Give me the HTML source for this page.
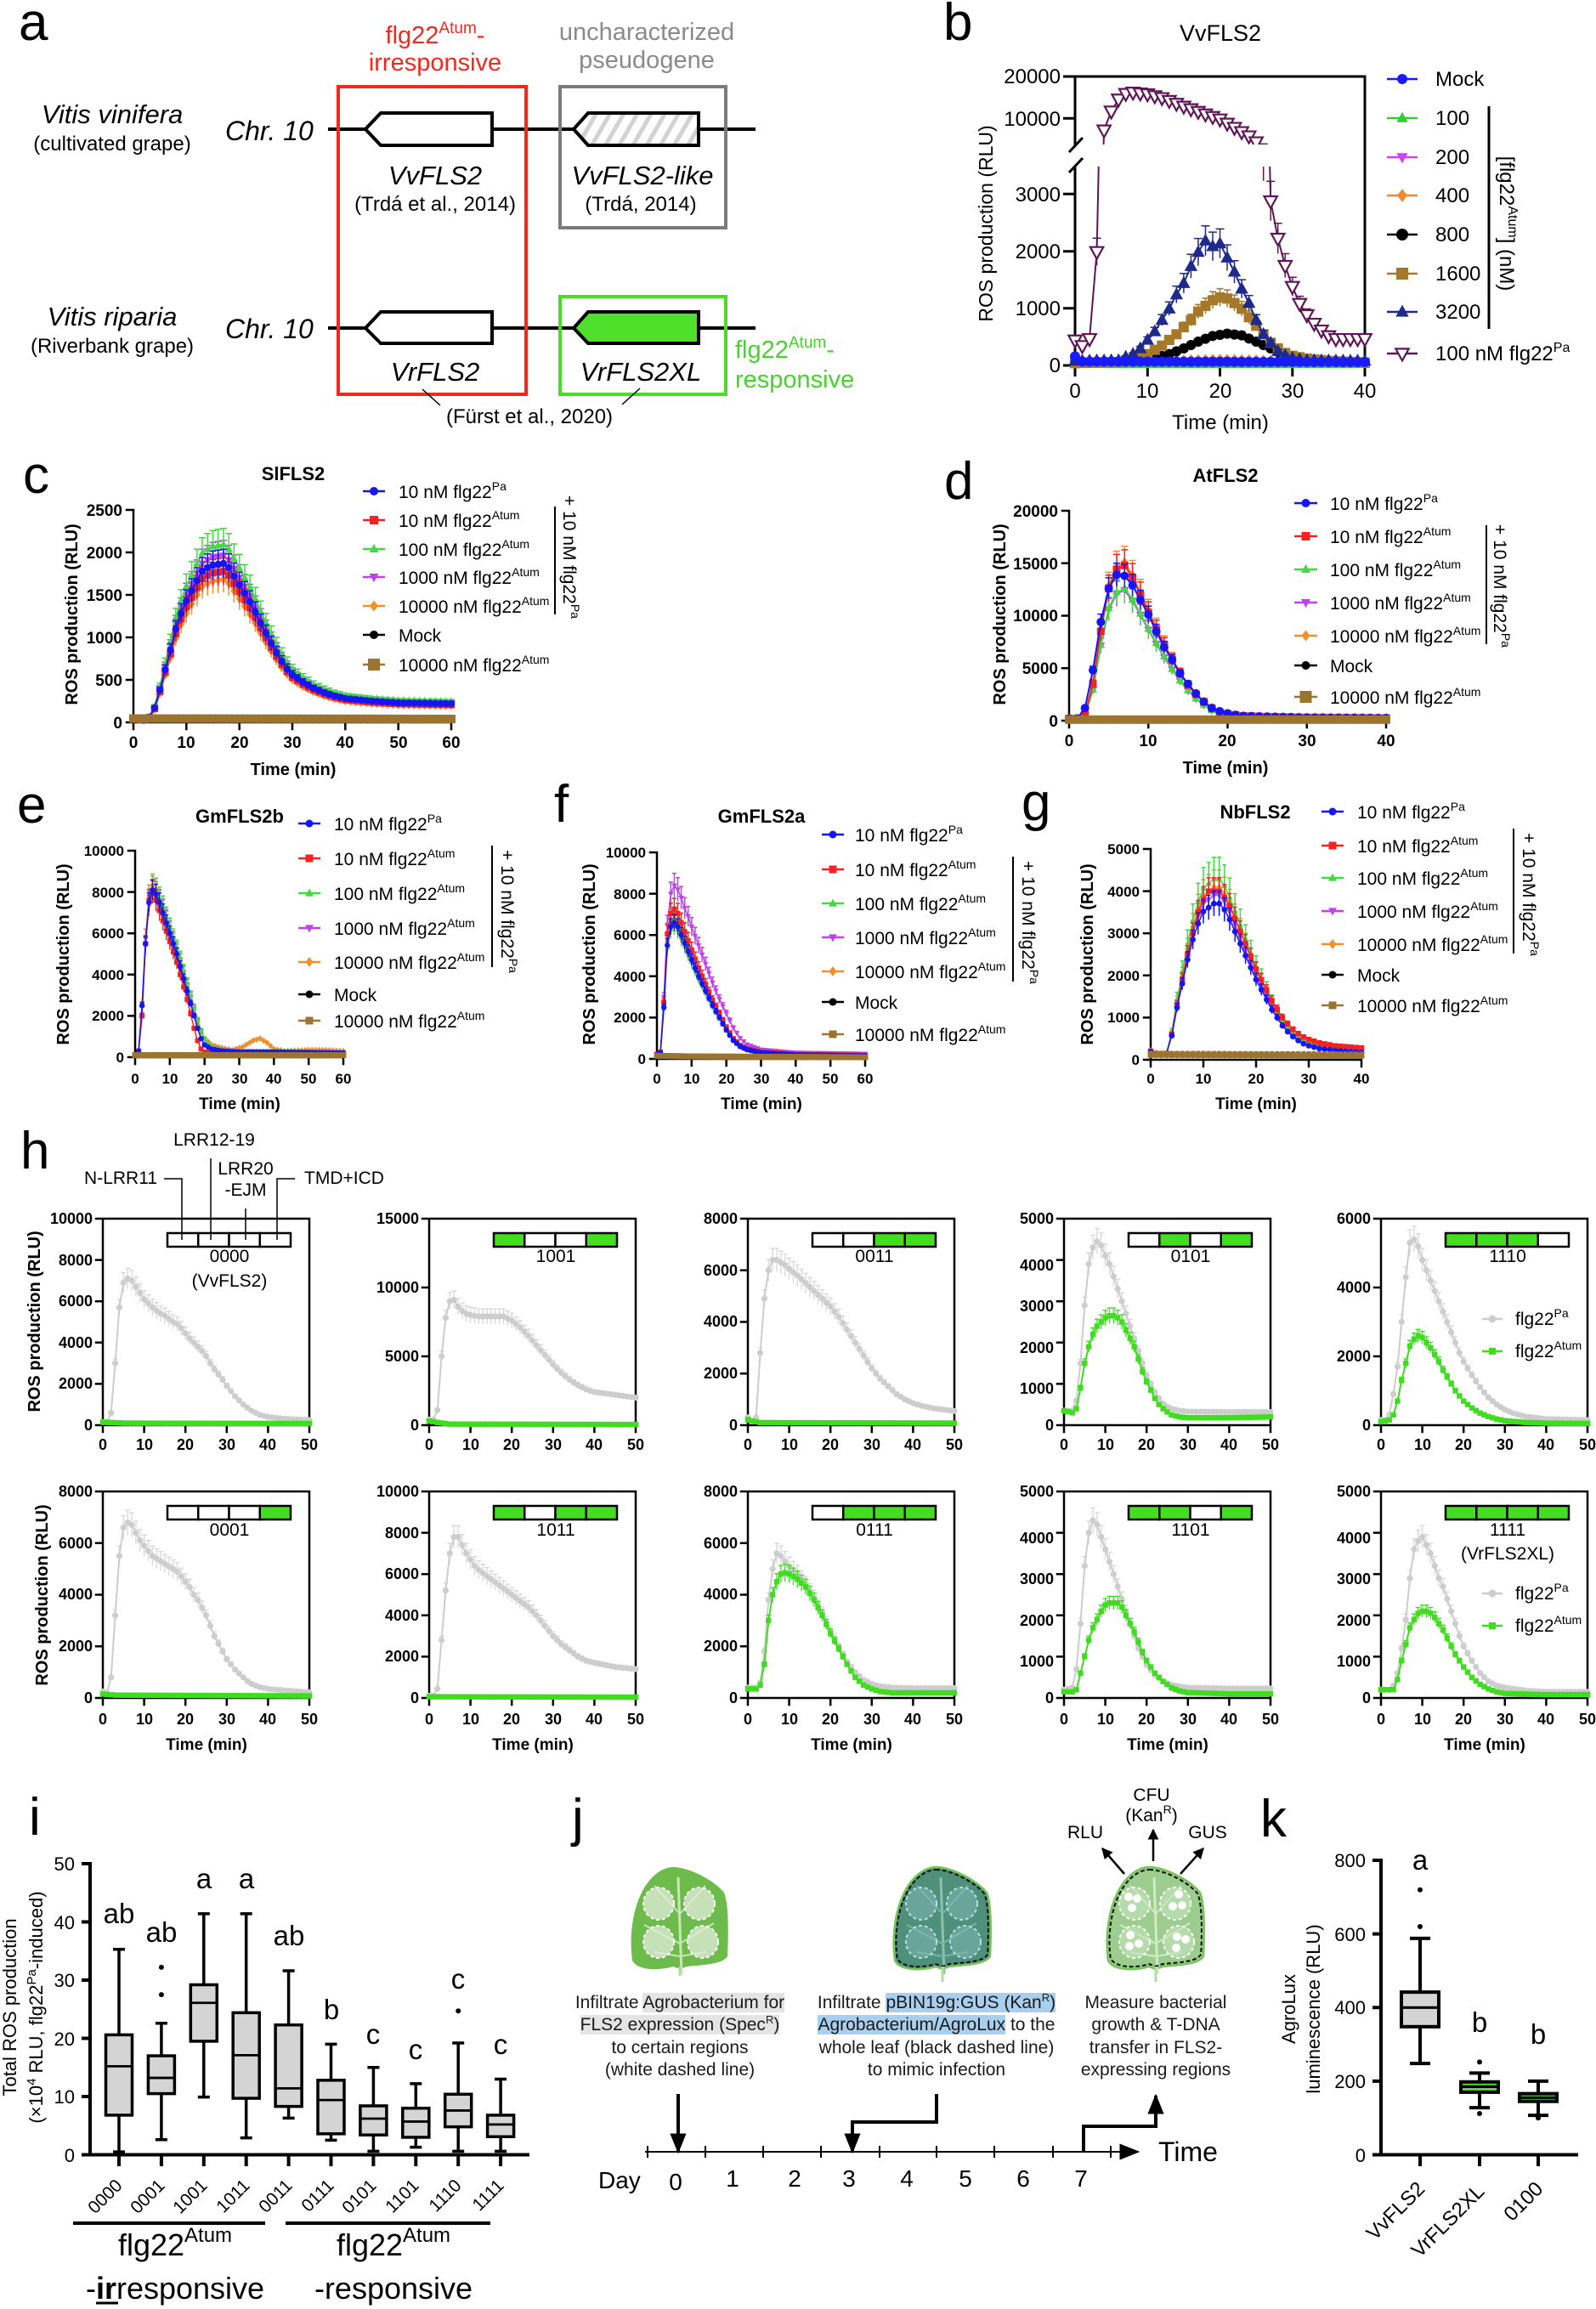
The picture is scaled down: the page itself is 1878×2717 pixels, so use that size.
<!DOCTYPE html>
<html><head><meta charset="utf-8">
<style>
html,body{margin:0;padding:0;background:#fff}
#wrap{position:relative;width:1878px;height:2717px;overflow:hidden;background:#fff}
svg{position:absolute;left:0;top:0}
text{font-family:"Liberation Sans",Arial,sans-serif;fill:#000}
.b{font-weight:bold}
.jt{position:absolute;font-family:"Liberation Sans",Arial,sans-serif;font-size:21px;line-height:26.3px;text-align:center;white-space:nowrap;color:#1a1a1a}
.hg{background:#e4e4e4}
.hb{background:#a8cfee}
sup{font-size:13px;vertical-align:8px;line-height:0}
</style></head><body><div id="wrap">
<svg id="s" width="1878" height="2717" viewBox="0 0 1878 2717" xmlns="http://www.w3.org/2000/svg">
<defs>
<pattern id="hatch" width="14" height="14" patternUnits="userSpaceOnUse" patternTransform="rotate(30)"><rect width="14" height="14" fill="#fff"/><rect width="5" height="14" fill="#d2d2d2"/></pattern>
<clipPath id="cbB"><rect x="1240" y="196" width="400" height="260"/></clipPath>
<clipPath id="cbT"><rect x="1240" y="60" width="400" height="110"/></clipPath>
<marker id="ah" viewBox="0 0 10 10" refX="9" refY="5" markerWidth="13" markerHeight="13" markerUnits="userSpaceOnUse" orient="auto"><path d="M0,0L10,5L0,10z" fill="#000"/></marker>
<marker id="ah2" viewBox="0 0 10 10" refX="9" refY="5" markerWidth="24" markerHeight="24" markerUnits="userSpaceOnUse" orient="auto"><path d="M0,1L10,5L0,9z" fill="#000"/></marker>
<path id="leaf" d="M-8,-60 C10,-60 40,-45 52,-30 C58,-15 57,20 56,45 C50,55 25,55 8,57 L0,60 L-8,57 C-25,62 -50,62 -56,50 C-60,20 -55,-10 -45,-30 C-35,-50 -20,-60 -8,-60 Z"/>
</defs>

<!-- ================= PANEL A ================= -->
<text x="22" y="47" font-size="62">a</text>
<text x="512" y="51" font-size="29" text-anchor="middle" style="fill:#ee2a20">flg22<tspan font-size="19" dy="-12" style="fill:#ee2a20">Atum</tspan><tspan dy="12" style="fill:#ee2a20">-</tspan></text>
<text x="512" y="83" font-size="29" text-anchor="middle" style="fill:#ee2a20">irresponsive</text>
<text x="761" y="47" font-size="29" text-anchor="middle" style="fill:#8a8a8a">uncharacterized</text>
<text x="761" y="80" font-size="29" text-anchor="middle" style="fill:#8a8a8a">pseudogene</text>
<line x1="386" y1="152" x2="889" y2="152" stroke="#000" stroke-width="4"/>
<line x1="386" y1="386" x2="889" y2="386" stroke="#000" stroke-width="4"/>
<polygon points="430,152 448,133 579,133 579,171 448,171" fill="#fff" stroke="#000" stroke-width="4"/>
<polygon points="675,152 692,133 822,133 822,171 692,171" fill="url(#hatch)" stroke="#000" stroke-width="4"/>
<polygon points="430,386 448,367 579,367 579,404 448,404" fill="#fff" stroke="#000" stroke-width="4"/>
<polygon points="675,386 692,367 822,367 822,404 692,404" fill="#4ee02a" stroke="#000" stroke-width="4"/>
<rect x="398" y="102" width="221" height="362" fill="none" stroke="#f02a1e" stroke-width="4"/>
<rect x="659" y="102" width="195" height="166" fill="none" stroke="#7b7b7b" stroke-width="4"/>
<rect x="659" y="349" width="195" height="115" fill="none" stroke="#4ddb2a" stroke-width="4"/>
<text x="132" y="145" font-size="31" font-style="italic" text-anchor="middle">Vitis vinifera</text>
<text x="132" y="177" font-size="24" text-anchor="middle">(cultivated grape)</text>
<text x="265" y="165" font-size="32" font-style="italic">Chr. 10</text>
<text x="512" y="217" font-size="31" font-style="italic" text-anchor="middle">VvFLS2</text>
<text x="512" y="248" font-size="24" text-anchor="middle">(Trdá et al., 2014)</text>
<text x="756" y="217" font-size="31" font-style="italic" text-anchor="middle">VvFLS2-like</text>
<text x="754" y="248" font-size="24" text-anchor="middle">(Trdá, 2014)</text>
<text x="132" y="383" font-size="31" font-style="italic" text-anchor="middle">Vitis riparia</text>
<text x="132" y="415" font-size="24" text-anchor="middle">(Riverbank grape)</text>
<text x="265" y="398" font-size="32" font-style="italic">Chr. 10</text>
<text x="512" y="448" font-size="31" font-style="italic" text-anchor="middle">VrFLS2</text>
<text x="754" y="448" font-size="31" font-style="italic" text-anchor="middle">VrFLS2XL</text>
<text x="865" y="421" font-size="29" style="fill:#44d42a">flg22<tspan font-size="19" dy="-12" style="fill:#44d42a">Atum</tspan><tspan dy="12" style="fill:#44d42a">-</tspan></text>
<text x="865" y="456" font-size="29" style="fill:#44d42a">responsive</text>
<text x="623" y="498" font-size="24" text-anchor="middle">(Fürst et al., 2020)</text>
<line x1="497" y1="458" x2="518" y2="477" stroke="#000" stroke-width="1.5"/>
<line x1="753" y1="457" x2="732" y2="476" stroke="#000" stroke-width="1.5"/>

<!-- ================= PANEL B ================= -->
<text x="1110" y="47" font-size="62">b</text>
<text x="1436" y="48" font-size="27" text-anchor="middle">VvFLS2</text>
<g font-size="24" text-anchor="end">
<text x="1248" y="98">20000</text><text x="1248" y="148">10000</text><text x="1248" y="237">3000</text><text x="1248" y="304">2000</text><text x="1248" y="371">1000</text><text x="1248" y="438">0</text>
</g>
<g font-size="24" text-anchor="middle">
<text x="1265" y="468">0</text><text x="1350" y="468">10</text><text x="1436" y="468">20</text><text x="1521" y="468">30</text><text x="1606" y="468">40</text>
<text x="1436" y="505">Time (min)</text>
</g>
<text transform="translate(1168,263) rotate(-90)" font-size="23" text-anchor="middle">ROS production (RLU)</text>
<g font-size="24">
<text x="1689" y="101">Mock</text><text x="1689" y="147">100</text><text x="1689" y="193">200</text><text x="1689" y="238">400</text><text x="1689" y="284">800</text><text x="1689" y="330">1600</text><text x="1689" y="375">3200</text>
<text x="1689" y="424">100 nM flg22<tspan font-size="16" dy="-10">Pa</tspan></text>
</g>
<line x1="1752" y1="125" x2="1752" y2="387" stroke="#000" stroke-width="3"/>
<text transform="translate(1765,263) rotate(90)" font-size="24" text-anchor="middle">[flg22<tspan font-size="16" dy="-10">Atum</tspan><tspan dy="10">] (nM)</tspan></text>

<!-- ================= PANEL C ================= -->
<text x="27" y="580" font-size="62">c</text>
<text x="345" y="565" font-size="22" class="b" text-anchor="middle">SlFLS2</text>
<g font-size="19" class="b" text-anchor="end">
<text x="144" y="607">2500</text><text x="144" y="657">2000</text><text x="144" y="707">1500</text><text x="144" y="757">1000</text><text x="144" y="807">500</text><text x="144" y="857">0</text>
</g>
<g font-size="19" class="b" text-anchor="middle">
<text x="157" y="880">0</text><text x="219" y="880">10</text><text x="282" y="880">20</text><text x="344" y="880">30</text><text x="406" y="880">40</text><text x="469" y="880">50</text><text x="531" y="880">60</text>
<text x="345" y="912" font-size="20">Time (min)</text>
</g>
<text transform="translate(91,723) rotate(-90)" font-size="20" class="b" text-anchor="middle">ROS production (RLU)</text>
<g font-size="21">
<text x="469" y="586">10 nM flg22<tspan font-size="14" dy="-9">Pa</tspan></text>
<text x="469" y="620">10 nM flg22<tspan font-size="14" dy="-9">Atum</tspan></text>
<text x="469" y="654">100 nM flg22<tspan font-size="14" dy="-9">Atum</tspan></text>
<text x="469" y="687">1000 nM flg22<tspan font-size="14" dy="-9">Atum</tspan></text>
<text x="469" y="721">10000 nM flg22<tspan font-size="14" dy="-9">Atum</tspan></text>
<text x="469" y="755">Mock</text>
<text x="469" y="790">10000 nM flg22<tspan font-size="14" dy="-9">Atum</tspan></text>
</g>
<line x1="653" y1="596" x2="653" y2="723" stroke="#000" stroke-width="2"/>
<text transform="translate(663,583) rotate(90)" font-size="21">+ 10 nM flg22<tspan font-size="14" dy="-9">Pa</tspan></text>

<!-- ================= PANEL D ================= -->
<text x="1111" y="587" font-size="62">d</text>
<text x="1442" y="567" font-size="22" class="b" text-anchor="middle">AtFLS2</text>
<g font-size="19" class="b" text-anchor="end">
<text x="1245" y="608">20000</text><text x="1245" y="670">15000</text><text x="1245" y="731">10000</text><text x="1245" y="793">5000</text><text x="1245" y="855">0</text>
</g>
<g font-size="19" class="b" text-anchor="middle">
<text x="1258" y="878">0</text><text x="1351" y="878">10</text><text x="1444" y="878">20</text><text x="1538" y="878">30</text><text x="1631" y="878">40</text>
<text x="1442" y="910" font-size="20">Time (min)</text>
</g>
<text transform="translate(1183,723) rotate(-90)" font-size="20" class="b" text-anchor="middle">ROS production (RLU)</text>
<g font-size="21">
<text x="1565" y="600">10 nM flg22<tspan font-size="14" dy="-9">Pa</tspan></text>
<text x="1565" y="639">10 nM flg22<tspan font-size="14" dy="-9">Atum</tspan></text>
<text x="1565" y="678">100 nM flg22<tspan font-size="14" dy="-9">Atum</tspan></text>
<text x="1565" y="717">1000 nM flg22<tspan font-size="14" dy="-9">Atum</tspan></text>
<text x="1565" y="756">10000 nM flg22<tspan font-size="14" dy="-9">Atum</tspan></text>
<text x="1565" y="791">Mock</text>
<text x="1565" y="828">10000 nM flg22<tspan font-size="14" dy="-9">Atum</tspan></text>
</g>
<line x1="1749" y1="618" x2="1749" y2="758" stroke="#000" stroke-width="2"/>
<text transform="translate(1758,617) rotate(90)" font-size="21">+ 10 nM flg22<tspan font-size="14" dy="-9">Pa</tspan></text>

<!-- ================= PANEL E ================= -->
<text x="20" y="968" font-size="62">e</text>
<text x="282" y="968" font-size="22" class="b" text-anchor="middle">GmFLS2b</text>
<g font-size="17" class="b" text-anchor="end">
<text x="146" y="1007">10000</text><text x="146" y="1056">8000</text><text x="146" y="1104">6000</text><text x="146" y="1153">4000</text><text x="146" y="1201">2000</text><text x="146" y="1250">0</text>
</g>
<g font-size="17" class="b" text-anchor="middle">
<text x="159" y="1275">0</text><text x="200" y="1275">10</text><text x="241" y="1275">20</text><text x="282" y="1275">30</text><text x="322" y="1275">40</text><text x="363" y="1275">50</text><text x="404" y="1275">60</text>
<text x="282" y="1305" font-size="19">Time (min)</text>
</g>
<text transform="translate(81,1123) rotate(-90)" font-size="20" class="b" text-anchor="middle">ROS production (RLU)</text>
<g font-size="21">
<text x="393" y="977">10 nM flg22<tspan font-size="14" dy="-9">Pa</tspan></text>
<text x="393" y="1018">10 nM flg22<tspan font-size="14" dy="-9">Atum</tspan></text>
<text x="393" y="1059">100 nM flg22<tspan font-size="14" dy="-9">Atum</tspan></text>
<text x="393" y="1100">1000 nM flg22<tspan font-size="14" dy="-9">Atum</tspan></text>
<text x="393" y="1140">10000 nM flg22<tspan font-size="14" dy="-9">Atum</tspan></text>
<text x="393" y="1178">Mock</text>
<text x="393" y="1209">10000 nM flg22<tspan font-size="14" dy="-9">Atum</tspan></text>
</g>
<line x1="579" y1="995" x2="579" y2="1138" stroke="#000" stroke-width="2"/>
<text transform="translate(590,1000) rotate(90)" font-size="21">+ 10 nM flg22<tspan font-size="14" dy="-9">Pa</tspan></text>

<!-- ================= PANEL F ================= -->
<text x="652" y="967" font-size="62">f</text>
<text x="896" y="968" font-size="22" class="b" text-anchor="middle">GmFLS2a</text>
<g font-size="17" class="b" text-anchor="end">
<text x="760" y="1009">10000</text><text x="760" y="1058">8000</text><text x="760" y="1106">6000</text><text x="760" y="1155">4000</text><text x="760" y="1203">2000</text><text x="760" y="1252">0</text>
</g>
<g font-size="17" class="b" text-anchor="middle">
<text x="773" y="1275">0</text><text x="814" y="1275">10</text><text x="855" y="1275">20</text><text x="896" y="1275">30</text><text x="936" y="1275">40</text><text x="977" y="1275">50</text><text x="1018" y="1275">60</text>
<text x="896" y="1305" font-size="19">Time (min)</text>
</g>
<text transform="translate(700,1123) rotate(-90)" font-size="20" class="b" text-anchor="middle">ROS production (RLU)</text>
<g font-size="21">
<text x="1006" y="990">10 nM flg22<tspan font-size="14" dy="-9">Pa</tspan></text>
<text x="1006" y="1031">10 nM flg22<tspan font-size="14" dy="-9">Atum</tspan></text>
<text x="1006" y="1071">100 nM flg22<tspan font-size="14" dy="-9">Atum</tspan></text>
<text x="1006" y="1111">1000 nM flg22<tspan font-size="14" dy="-9">Atum</tspan></text>
<text x="1006" y="1151">10000 nM flg22<tspan font-size="14" dy="-9">Atum</tspan></text>
<text x="1006" y="1187">Mock</text>
<text x="1006" y="1225">10000 nM flg22<tspan font-size="14" dy="-9">Atum</tspan></text>
</g>
<line x1="1192" y1="1008" x2="1192" y2="1155" stroke="#000" stroke-width="2"/>
<text transform="translate(1203,1013) rotate(90)" font-size="21">+ 10 nM flg22<tspan font-size="14" dy="-9">Pa</tspan></text>

<!-- ================= PANEL G ================= -->
<text x="1202" y="965" font-size="62">g</text>
<text x="1477" y="963" font-size="22" class="b" text-anchor="middle">NbFLS2</text>
<g font-size="17" class="b" text-anchor="end">
<text x="1341" y="1005">5000</text><text x="1341" y="1055">4000</text><text x="1341" y="1104">3000</text><text x="1341" y="1154">2000</text><text x="1341" y="1203">1000</text><text x="1341" y="1253">0</text>
</g>
<g font-size="17" class="b" text-anchor="middle">
<text x="1354" y="1275">0</text><text x="1416" y="1275">10</text><text x="1478" y="1275">20</text><text x="1540" y="1275">30</text><text x="1602" y="1275">40</text>
<text x="1478" y="1305" font-size="19">Time (min)</text>
</g>
<text transform="translate(1286,1123) rotate(-90)" font-size="20" class="b" text-anchor="middle">ROS production (RLU)</text>
<g font-size="21">
<text x="1597" y="963">10 nM flg22<tspan font-size="14" dy="-9">Pa</tspan></text>
<text x="1597" y="1003">10 nM flg22<tspan font-size="14" dy="-9">Atum</tspan></text>
<text x="1597" y="1041">100 nM flg22<tspan font-size="14" dy="-9">Atum</tspan></text>
<text x="1597" y="1080">1000 nM flg22<tspan font-size="14" dy="-9">Atum</tspan></text>
<text x="1597" y="1119">10000 nM flg22<tspan font-size="14" dy="-9">Atum</tspan></text>
<text x="1597" y="1155">Mock</text>
<text x="1597" y="1191">10000 nM flg22<tspan font-size="14" dy="-9">Atum</tspan></text>
</g>
<line x1="1781" y1="975" x2="1781" y2="1122" stroke="#000" stroke-width="2"/>
<text transform="translate(1792,980) rotate(90)" font-size="21">+ 10 nM flg22<tspan font-size="14" dy="-9">Pa</tspan></text>

<!-- ================= PANEL H ================= -->
<text x="24" y="1375" font-size="62">h</text>
<g font-size="21">
<text x="252" y="1348" text-anchor="middle">LRR12-19</text>
<text x="185" y="1393" text-anchor="end">N-LRR11</text>
<text x="289" y="1382" text-anchor="middle">LRR20</text>
<text x="289" y="1407" text-anchor="middle">-EJM</text>
<text x="358" y="1393">TMD+ICD</text>
</g>
<path d="M193,1387H214V1459 M248,1363V1459 M289,1422V1459 M347,1387H326V1459" stroke="#000" stroke-width="1.5" fill="none"/>
<g font-size="18" class="b" text-anchor="end">
<text x="109" y="1440">10000</text><text x="109" y="1489">8000</text><text x="109" y="1537">6000</text><text x="109" y="1586">4000</text><text x="109" y="1634">2000</text><text x="109" y="1683">0</text>
<text x="493" y="1440">15000</text><text x="493" y="1521">10000</text><text x="493" y="1602">5000</text><text x="493" y="1683">0</text>
<text x="868" y="1440">8000</text><text x="868" y="1501">6000</text><text x="868" y="1561">4000</text><text x="868" y="1622">2000</text><text x="868" y="1683">0</text>
<text x="1240" y="1440">5000</text><text x="1240" y="1495">4000</text><text x="1240" y="1543">3000</text><text x="1240" y="1592">2000</text><text x="1240" y="1640">1000</text><text x="1240" y="1683">0</text>
<text x="1613" y="1440">6000</text><text x="1613" y="1521">4000</text><text x="1613" y="1602">2000</text><text x="1613" y="1683">0</text>
<text x="109" y="1761">8000</text><text x="109" y="1822">6000</text><text x="109" y="1882">4000</text><text x="109" y="1943">2000</text><text x="109" y="2004">0</text>
<text x="493" y="1761">10000</text><text x="493" y="1810">8000</text><text x="493" y="1858">6000</text><text x="493" y="1907">4000</text><text x="493" y="1955">2000</text><text x="493" y="2004">0</text>
<text x="868" y="1761">8000</text><text x="868" y="1822">6000</text><text x="868" y="1882">4000</text><text x="868" y="1943">2000</text><text x="868" y="2004">0</text>
<text x="1240" y="1761">5000</text><text x="1240" y="1816">4000</text><text x="1240" y="1864">3000</text><text x="1240" y="1913">2000</text><text x="1240" y="1961">1000</text><text x="1240" y="2004">0</text>
<text x="1613" y="1761">5000</text><text x="1613" y="1816">4000</text><text x="1613" y="1864">3000</text><text x="1613" y="1913">2000</text><text x="1613" y="1961">1000</text><text x="1613" y="2004">0</text>
</g>
<g font-size="18" class="b" text-anchor="middle">
<text x="121" y="1706">0</text><text x="170" y="1706">10</text><text x="218" y="1706">20</text><text x="267" y="1706">30</text><text x="315" y="1706">40</text><text x="364" y="1706">50</text>
<text x="505" y="1706">0</text><text x="554" y="1706">10</text><text x="602" y="1706">20</text><text x="651" y="1706">30</text><text x="699" y="1706">40</text><text x="748" y="1706">50</text>
<text x="880" y="1706">0</text><text x="929" y="1706">10</text><text x="977" y="1706">20</text><text x="1026" y="1706">30</text><text x="1074" y="1706">40</text><text x="1123" y="1706">50</text>
<text x="1252" y="1706">0</text><text x="1301" y="1706">10</text><text x="1349" y="1706">20</text><text x="1398" y="1706">30</text><text x="1446" y="1706">40</text><text x="1495" y="1706">50</text>
<text x="1625" y="1706">0</text><text x="1674" y="1706">10</text><text x="1722" y="1706">20</text><text x="1771" y="1706">30</text><text x="1819" y="1706">40</text><text x="1868" y="1706">50</text>
<text x="121" y="2029">0</text><text x="170" y="2029">10</text><text x="218" y="2029">20</text><text x="267" y="2029">30</text><text x="315" y="2029">40</text><text x="364" y="2029">50</text>
<text x="505" y="2029">0</text><text x="554" y="2029">10</text><text x="602" y="2029">20</text><text x="651" y="2029">30</text><text x="699" y="2029">40</text><text x="748" y="2029">50</text>
<text x="880" y="2029">0</text><text x="929" y="2029">10</text><text x="977" y="2029">20</text><text x="1026" y="2029">30</text><text x="1074" y="2029">40</text><text x="1123" y="2029">50</text>
<text x="1252" y="2029">0</text><text x="1301" y="2029">10</text><text x="1349" y="2029">20</text><text x="1398" y="2029">30</text><text x="1446" y="2029">40</text><text x="1495" y="2029">50</text>
<text x="1625" y="2029">0</text><text x="1674" y="2029">10</text><text x="1722" y="2029">20</text><text x="1771" y="2029">30</text><text x="1819" y="2029">40</text><text x="1868" y="2029">50</text>
<g font-size="19">
<text x="243" y="2059">Time (min)</text><text x="627" y="2059">Time (min)</text><text x="1002" y="2059">Time (min)</text><text x="1374" y="2059">Time (min)</text><text x="1747" y="2059">Time (min)</text>
</g>
</g>
<text transform="translate(47,1555) rotate(-90)" font-size="20" class="b" text-anchor="middle">ROS production (RLU)</text>
<text transform="translate(56,1877) rotate(-90)" font-size="20" class="b" text-anchor="middle">ROS production (RLU)</text>
<g font-size="21" text-anchor="middle">
<text x="270" y="1485">0000</text><text x="270" y="1514">(VvFLS2)</text>
<text x="654" y="1485">1001</text>
<text x="1029" y="1485">0011</text>
<text x="1401" y="1485">0101</text>
<text x="1774" y="1485">1110</text>
<text x="270" y="1807">0001</text>
<text x="654" y="1807">1011</text>
<text x="1029" y="1807">0111</text>
<text x="1401" y="1807">1101</text>
<text x="1774" y="1807">1111</text><text x="1774" y="1835">(VrFLS2XL)</text>
</g>
<g font-size="21">
<text x="1783" y="1559">flg22<tspan font-size="14" dy="-9">Pa</tspan></text>
<text x="1783" y="1597">flg22<tspan font-size="14" dy="-9">Atum</tspan></text>
<text x="1783" y="1882">flg22<tspan font-size="14" dy="-9">Pa</tspan></text>
<text x="1783" y="1920">flg22<tspan font-size="14" dy="-9">Atum</tspan></text>
</g>

<!-- ================= PANEL I ================= -->
<text x="34" y="2159" font-size="62">i</text>
<g font-size="22" text-anchor="end">
<text x="88" y="2201">50</text><text x="88" y="2270">40</text><text x="88" y="2338">30</text><text x="88" y="2407">20</text><text x="88" y="2475">10</text><text x="88" y="2544">0</text>
</g>
<text transform="translate(19,2362) rotate(-90)" font-size="22" text-anchor="middle">Total ROS production</text>
<text transform="translate(50,2362) rotate(-90)" font-size="22" text-anchor="middle">(×10<tspan font-size="15" dy="-8">4</tspan><tspan dy="8"> RLU, flg22</tspan><tspan font-size="15" dy="-8">Pa</tspan><tspan dy="8">-induced)</tspan></text>
<g font-size="21" text-anchor="end">
<text transform="translate(145,2573) rotate(-45)">0000</text>
<text transform="translate(195,2573) rotate(-45)">0001</text>
<text transform="translate(245,2573) rotate(-45)">1001</text>
<text transform="translate(295,2573) rotate(-45)">1011</text>
<text transform="translate(345,2573) rotate(-45)">0011</text>
<text transform="translate(394,2573) rotate(-45)">0111</text>
<text transform="translate(444,2573) rotate(-45)">0101</text>
<text transform="translate(494,2573) rotate(-45)">1101</text>
<text transform="translate(544,2573) rotate(-45)">1110</text>
<text transform="translate(594,2573) rotate(-45)">1111</text>
</g>
<g font-size="33" text-anchor="middle">
<text x="140" y="2263">ab</text><text x="190" y="2285">ab</text><text x="240" y="2222">a</text><text x="290" y="2222">a</text><text x="340" y="2289">ab</text>
<text x="390" y="2376">b</text><text x="439" y="2405">c</text><text x="489" y="2423">c</text><text x="539" y="2340">c</text><text x="589" y="2417">c</text>
</g>
<line x1="86" y1="2616" x2="312" y2="2616" stroke="#000" stroke-width="4"/>
<line x1="336" y1="2616" x2="577" y2="2616" stroke="#000" stroke-width="4"/>
<text x="206" y="2654" font-size="36" text-anchor="middle">flg22<tspan font-size="24" dy="-16">Atum</tspan></text>
<text x="206" y="2705" font-size="36" text-anchor="middle">-<tspan font-weight="bold">ir</tspan>responsive</text>
<line x1="113" y1="2710" x2="139" y2="2710" stroke="#000" stroke-width="3"/>
<text x="463" y="2654" font-size="36" text-anchor="middle">flg22<tspan font-size="24" dy="-16">Atum</tspan></text>
<text x="463" y="2705" font-size="36" text-anchor="middle">-responsive</text>

<!-- ================= PANEL J ================= -->
<text x="673" y="2160" font-size="62">j</text>
<g transform="translate(800,2257)">
<use href="#leaf" fill="#6dbb4a"/>
<line x1="-2" y1="-48" x2="2" y2="66" stroke="#c8e6b8" stroke-width="3"/>
<path d="M0,-5 L-30,-38 M0,-5 L30,-38 M0,30 L-42,8 M0,30 L40,6 M0,45 L-30,40 M0,45 L30,40" stroke="#c8e6b8" stroke-width="2" fill="none"/>
<g fill="#e4ecdc" fill-opacity="0.75" stroke="#fff" stroke-width="2" stroke-dasharray="4 3">
<ellipse cx="-25" cy="-17" rx="18" ry="19"/><ellipse cx="23" cy="-17" rx="18" ry="19"/><ellipse cx="-25" cy="28" rx="18" ry="19"/><ellipse cx="27" cy="28" rx="18" ry="19"/>
</g>
</g>
<g transform="translate(1109,2257)">
<use href="#leaf" fill="#4e9079" stroke="#78c35a" stroke-width="2.5"/>
<line x1="-2" y1="-48" x2="2" y2="66" stroke="#8cc0b4" stroke-width="3"/>
<path d="M0,-5 L-30,-38 M0,-5 L30,-38 M0,30 L-42,8 M0,30 L40,6 M0,45 L-30,40 M0,45 L30,40" stroke="#7db3a8" stroke-width="2" fill="none"/>
<g fill="#7fb8b5" fill-opacity="0.55" stroke="#b8dcec" stroke-width="2" stroke-dasharray="4 3">
<ellipse cx="-25" cy="-17" rx="18" ry="19"/><ellipse cx="23" cy="-17" rx="18" ry="19"/><ellipse cx="-25" cy="28" rx="18" ry="19"/><ellipse cx="27" cy="28" rx="18" ry="19"/>
</g>
<use href="#leaf" fill="none" stroke="#111" stroke-width="2.2" stroke-dasharray="5 3" transform="scale(0.95)"/>
<line x1="0" y1="57" x2="0" y2="75" stroke="#b5dca0" stroke-width="3"/>
</g>
<g transform="translate(1360,2257)">
<use href="#leaf" fill="#9ccd8f" stroke="#78c35a" stroke-width="2.5"/>
<line x1="-2" y1="-48" x2="2" y2="66" stroke="#d0ecc6" stroke-width="3"/>
<path d="M0,-5 L-30,-38 M0,-5 L30,-38 M0,30 L-42,8 M0,30 L40,6 M0,45 L-30,40 M0,45 L30,40" stroke="#d0ecc6" stroke-width="2" fill="none"/>
<g fill="#c4e4ba" fill-opacity="0.6" stroke="#fff" stroke-width="2" stroke-dasharray="4 3">
<ellipse cx="-25" cy="-17" rx="18" ry="19"/><ellipse cx="23" cy="-17" rx="18" ry="19"/><ellipse cx="-25" cy="28" rx="18" ry="19"/><ellipse cx="27" cy="28" rx="18" ry="19"/>
</g>
<g fill="#fff">
<circle cx="-32" cy="-25" r="5"/><circle cx="-22" cy="-23" r="5"/><circle cx="-28" cy="-12" r="5"/>
<circle cx="27" cy="-28" r="5"/><circle cx="20" cy="-14" r="5"/><circle cx="31" cy="-15" r="5"/>
<circle cx="-30" cy="20" r="5"/><circle cx="-20" cy="30" r="5"/><circle cx="-31" cy="33" r="5"/>
<circle cx="25" cy="22" r="5"/><circle cx="35" cy="25" r="5"/><circle cx="24" cy="35" r="5"/>
</g>
<use href="#leaf" fill="none" stroke="#111" stroke-width="2.2" stroke-dasharray="5 3" transform="scale(0.95)"/>
<line x1="0" y1="57" x2="0" y2="75" stroke="#b5dca0" stroke-width="3"/>
</g>
<line x1="800" y1="2314" x2="800" y2="2325" stroke="#b5dca0" stroke-width="3"/>
<g font-size="21" text-anchor="middle">
<text x="1277" y="2163">RLU</text>
<text x="1355" y="2119">CFU</text>
<text x="1355" y="2143">(Kan<tspan font-size="14" dy="-9">R</tspan><tspan dy="9">)</tspan></text>
<text x="1421" y="2163">GUS</text>
</g>
<line x1="1323" y1="2205" x2="1297" y2="2175" stroke="#000" stroke-width="2.5" marker-end="url(#ah)"/>
<line x1="1357" y1="2190" x2="1357" y2="2153" stroke="#000" stroke-width="2.5" marker-end="url(#ah)"/>
<line x1="1389" y1="2205" x2="1416" y2="2175" stroke="#000" stroke-width="2.5" marker-end="url(#ah)"/>
<line x1="759" y1="2532" x2="1339" y2="2532" stroke="#000" stroke-width="2" marker-end="url(#ah2)"/>
<path d="M762,2525V2539 M830,2525V2539 M898,2525V2539 M966,2525V2539 M1035,2525V2539 M1102,2525V2539 M1170,2525V2539 M1239,2525V2539 M1307,2525V2539" stroke="#000" stroke-width="2"/>
<path d="M798,2464V2532" stroke="#000" stroke-width="4" fill="none" marker-end="url(#ah2)"/>
<path d="M1102,2464V2497H1003V2532" stroke="#000" stroke-width="4" fill="none" marker-end="url(#ah2)"/>
<path d="M1275,2532V2502H1360V2466" stroke="#000" stroke-width="4" fill="none" marker-end="url(#ah2)"/>
<g font-size="28">
<text x="704" y="2575">Day</text>
<g text-anchor="middle"><text x="795" y="2577">0</text><text x="862" y="2573">1</text><text x="935" y="2573">2</text><text x="999" y="2573">3</text><text x="1067" y="2573">4</text><text x="1136" y="2573">5</text><text x="1204" y="2573">6</text><text x="1272" y="2573">7</text></g>
<text x="1363" y="2543" font-size="32">Time</text>
</g>

<!-- ================= PANEL K ================= -->
<text x="1483" y="2161" font-size="62">k</text>
<g font-size="22" text-anchor="end">
<text x="1607" y="2197">800</text><text x="1607" y="2284">600</text><text x="1607" y="2370">400</text><text x="1607" y="2457">200</text><text x="1607" y="2544">0</text>
</g>
<text transform="translate(1524,2364) rotate(-90)" font-size="22" text-anchor="middle">AgroLux</text>
<text transform="translate(1553,2364) rotate(-90)" font-size="22" text-anchor="middle">luminescence (RLU)</text>
<g font-size="24" text-anchor="end">
<text transform="translate(1678,2577) rotate(-45)">VvFLS2</text>
<text transform="translate(1748,2580) rotate(-45)">VrFLS2XL</text>
<text transform="translate(1817,2577) rotate(-45)">0100</text>
</g>
<g font-size="33" text-anchor="middle">
<text x="1671" y="2200">a</text><text x="1741" y="2391">b</text><text x="1810" y="2405">b</text>
</g>

<g id="dyn"></g>
</svg>

<div class="jt" style="left:640px;top:2344px;width:320px">Infiltrate <span class="hg">Agrobacterium for</span><br><span class="hg">FLS2 expression (Spec<sup>R</sup>)</span><br>to certain regions<br>(white dashed line)</div>
<div class="jt" style="left:937px;top:2344px;width:330px">Infiltrate <span class="hb">pBIN19g:GUS (Kan<sup>R</sup>)</span><br><span class="hb">Agrobacterium/AgroLux</span> to the<br>whole leaf (black dashed line)<br>to mimic infection</div>
<div class="jt" style="left:1250px;top:2344px;width:220px">Measure bacterial<br>growth &amp; T-DNA<br>transfer in FLS2-<br>expressing regions</div>
</div>

<script>
(function(){
const NS='http://www.w3.org/2000/svg', S=document.getElementById('dyn');
function el(t,a,p){const e=document.createElementNS(NS,t);for(const k in a)e.setAttribute(k,a[k]);(p||S).appendChild(e);return e;}
function ip(kp,t){if(t<=kp[0])return kp[1];for(let i=0;i+2<kp.length;i+=2){if(t<=kp[i+2]){const f=(t-kp[i])/(kp[i+2]-kp[i]);return kp[i+1]+(kp[i+3]-kp[i+1])*f;}}return kp[kp.length-1];}
function mk(sh,x,y,r,c,p,open){
 if(sh=='o')el('circle',{cx:x,cy:y,r:r,fill:c},p);
 else if(sh=='s')el('rect',{x:x-r,y:y-r,width:2*r,height:2*r,fill:c},p);
 else if(sh=='^')el('polygon',{points:[x,y-1.2*r,x+1.1*r,y+.8*r,x-1.1*r,y+.8*r].join(' '),fill:c},p);
 else if(sh=='v')el('polygon',{points:[x,y+1.2*r,x+1.1*r,y-.8*r,x-1.1*r,y-.8*r].join(' '),fill:open?'#fff':c,stroke:c,'stroke-width':open?2.2:0},p);
 else if(sh=='d')el('polygon',{points:[x,y-1.3*r,x+r,y,x,y+1.3*r,x-r,y].join(' '),fill:c},p);
}
function ser(o){
 const p=el('g',o.clip?{'clip-path':'url(#'+o.clip+')'}:{},o.par);
 const pts=[];const sc=o.sc||1;
 for(let t=0;t<=o.n;t++){const v=ip(o.kp,t)*sc;pts.push([o.X(t),o.Y(v),v]);}
 if(o.err!==undefined){let d='';const cw=o.cw||4;for(const q of pts){const x=q[0],v=q[2];const e=v*o.err+(o.ea||0);const y1=o.Y(v+e),y2=o.Y(Math.max(0,v-e));d+='M'+x.toFixed(1)+' '+y2.toFixed(1)+'V'+y1.toFixed(1)+'M'+(x-cw).toFixed(1)+' '+y1.toFixed(1)+'h'+(2*cw);if(o.both)d+='M'+(x-cw).toFixed(1)+' '+y2.toFixed(1)+'h'+(2*cw);}
  el('path',{d:d,stroke:o.ec||o.c,'stroke-width':o.ew||1.5,fill:'none'},p);}
 el('polyline',{points:pts.map(q=>q[0].toFixed(1)+','+q[1].toFixed(1)).join(' '),fill:'none',stroke:o.c,'stroke-width':o.lw||2,'stroke-linejoin':'round'},p);
 if(o.r)for(const q of pts)mk(o.sh,q[0],q[1],o.r,o.c,p,o.open);
}
function leg(x1,x2,y,sh,c,r,open){el('line',{x1:x1,y1:y,x2:x2,y2:y,stroke:c,'stroke-width':2.5});mk(sh,(x1+x2)/2,y,r,c,S,open);}
function ax(x0,x1,y0,yt,yts,xts,lw,tl,frame){
 let d=frame?('M'+x0+' '+yt+'H'+x1+'V'+y0+'H'+x0+'Z'):('M'+x0+' '+yt+'V'+y0+'H'+x1);
 for(const y of yts)d+='M'+(x0-tl)+' '+y+'H'+x0;
 for(const x of xts)d+='M'+x+' '+y0+'V'+(y0+tl);
 el('path',{d:d,stroke:'#000','stroke-width':lw,fill:'none','stroke-linecap':'square'});
}
const BL='#1515f5',RD='#f52222',GR='#44d944',MG='#c040f0',OR='#f0902a',BK='#000',BR='#9a7430';

/* ---------- PANEL B ---------- */
el('path',{d:'M1265 90V171M1265 196V430H1606V90H1265M1251 90H1265M1251 139.3H1265M1251 228.3H1265M1251 295.7H1265M1251 362.7H1265M1251 430H1265M1265 430V443M1350.3 430V443M1435.5 430V443M1520.8 430V443M1606 430V443',stroke:'#000','stroke-width':3,fill:'none'});
el('path',{d:'M1258 179L1274 162M1258 203L1274 186',stroke:'#000','stroke-width':3,fill:'none'});
const bX=t=>1265+t*8.525,bB=v=>430-v*0.0667,bT=v=>139.3-(v-10000)*0.00493;
const bB2=v=>v>3600?-100:430-v*0.0667, bT2=v=>v<3800?420:139.3-(v-10000)*0.00493;
ser({X:bX,Y:bB,kp:[0,40,1,15,40,15],n:40,c:'#33cc33',sh:'^',r:5});
ser({X:bX,Y:bB,kp:[0,60,40,60],n:40,c:'#cc44ee',sh:'v',r:5});
ser({X:bX,Y:bB,kp:[0,80,10,80,15,100,20,110,25,100,30,80,40,70],n:40,c:'#f28a2e',sh:'d',r:5,err:0.3,cw:4});
ser({X:bX,Y:bB,kp:[0,60,8,70,10,100,13,200,15,300,17,420,19,520,21,560,23,530,25,420,27,300,29,180,31,110,33,70,40,60],n:40,c:BK,sh:'o',r:6,err:0.12,cw:4});
ser({X:bX,Y:bB,kp:[0,40,6,60,8,100,10,200,12,350,14,550,16,800,17,950,18,1050,19,1150,20,1200,21,1180,22,1100,23,1000,24,850,25,700,26,550,27,400,28,300,29,220,30,170,32,120,35,80,40,50],n:40,c:'#a6782a',sh:'s',r:6,err:0.13,cw:4});
ser({X:bX,Y:bB,kp:[0,80,6,90,7,150,8,200,9,300,10,450,11,600,12,800,13,1000,14,1250,15,1450,16,1750,17,2000,18,2200,19,2100,20,2150,21,1900,22,1650,23,1350,24,1100,25,800,26,550,27,400,28,250,29,180,30,130,32,90,40,80],n:40,c:'#1e2a8a',sh:'^',r:7,err:0.12,cw:5});
ser({X:bX,Y:bB,kp:[0,160,1,70,40,60],n:40,c:'#1a1aff',sh:'o',r:6});
const PU=[0,445,1,346,2,470,3,2005,4,7177,5,11700,6,14560,7,15900,8,16200,9,16000,10,15800,12,14900,15,12860,18,11000,20,9800,22,7800,24,5770,25,4350,26,3700,27,2900,28,2240,29,1760,30,1390,31,1090,32,890,33,740,34,620,35,520,36,470,40,470];
ser({X:bX,Y:bB2,kp:PU,n:40,c:'#5e1656',sh:'v',r:7,open:true,err:0.12,cw:5,clip:'cbB'});
ser({X:bX,Y:bT2,kp:PU,n:40,c:'#5e1656',sh:'v',r:7,open:true,err:0.05,cw:5,clip:'cbT'});
leg(1632,1668,93,'o','#1a1aff',6);leg(1632,1668,139,'^','#33cc33',6);leg(1632,1668,185,'v','#cc44ee',6);leg(1632,1668,230,'d','#f28a2e',6);
leg(1632,1668,276,'o',BK,7);leg(1632,1668,322,'s','#a6782a',7);leg(1632,1668,367,'^','#1e2a8a',7);leg(1632,1668,416,'v','#5e1656',7,true);

/* ---------- PANEL C ---------- */
ax(157,531,850,600,[600,650,700,750,800,850],[157,219.3,281.7,344,406.3,468.7,531],2.5,8);
const cX=t=>157+t*6.233,cY=v=>850-v*0.1;
const C=[0,45,2,30,3,60,4,170,5,380,6,620,7,850,8,1100,9,1280,10,1430,11,1550,12,1670,13,1780,14,1820,15,1850,16,1860,17,1870,18,1820,19,1720,20,1620,21,1520,22,1420,23,1300,24,1170,25,1050,26,930,27,820,28,720,29,630,30,560,32,470,34,400,36,350,38,310,40,280,45,250,50,230,60,220];
[[OR,'d',0.9],[MG,'v',1.05],[GR,'^',1.12],[RD,'s',0.95],[BL,'o',1]].forEach(a=>ser({X:cX,Y:cY,kp:C,n:60,c:a[0],sh:a[1],r:4.2,sc:a[2],err:0.09,cw:4}));
ser({X:cX,Y:cY,kp:[0,50,60,50],n:60,c:BK,sh:'o',r:4});
ser({X:cX,Y:cY,kp:[0,45,60,40],n:60,c:BR,sh:'s',r:5,err:0,ea:30,cw:4,ew:2});
[[578,'o',BL],[612,'s',RD],[646,'^',GR],[679,'v',MG],[713,'d',OR],[747,'o',BK],[782,'s',BR]].forEach(a=>leg(427,453,a[0],a[1],a[2],a[1]=='s'&&a[0]==782?7:5));

/* ---------- PANEL D ---------- */
ax(1258,1631,848,601,[601,662.75,724.5,786.25,848],[1258,1351.25,1444.5,1537.75,1631],2.5,8);
const dX=t=>1258+t*9.325,dY=v=>848-v*0.01235;
const D=[0,200,1,200,2,1200,3,4800,4,9400,5,12600,6,13900,7,13800,8,12900,9,11500,10,10100,11,8500,12,7000,13,5800,14,4500,15,3500,16,2600,17,1800,18,1200,19,900,20,700,21,550,22,450,25,380,30,300,40,250];
const Dr=[0,200,1,200,2,600,3,3500,4,8500,5,12600,6,14400,7,14800,8,13600,9,12000,10,10300,11,8700,12,7200,13,5800,14,4500,15,3400,16,2500,17,1800,18,1200,19,800,20,650,22,450,25,380,30,300,40,250];
ser({X:dX,Y:dY,kp:Dr,n:40,c:OR,sh:'d',r:4.5,sc:1.02,err:0.1,cw:4});
ser({X:dX,Y:dY,kp:Dr,n:40,c:MG,sh:'v',r:4.5,sc:0.84,err:0.1,cw:4});
ser({X:dX,Y:dY,kp:Dr,n:40,c:GR,sh:'^',r:4.5,sc:0.85,err:0.1,cw:4});
ser({X:dX,Y:dY,kp:Dr,n:40,c:RD,sh:'s',r:4.5,sc:1.0,err:0.1,cw:4});
ser({X:dX,Y:dY,kp:D,n:40,c:BL,sh:'o',r:5,err:0.08,cw:4});
ser({X:dX,Y:dY,kp:[0,100,40,100],n:40,c:BK,sh:'o',r:4});
ser({X:dX,Y:dY,kp:[0,100,40,100],n:40,c:BR,sh:'s',r:5,err:0,ea:200,cw:4,ew:2});
[[592,'o',BL],[631,'s',RD],[670,'^',GR],[709,'v',MG],[748,'d',OR],[783,'o',BK],[820,'s',BR]].forEach(a=>leg(1523,1550,a[0],a[1],a[2],a[0]==820?7:5));

/* ---------- PANEL E ---------- */
ax(159,404,1244,1001,[1001,1049.6,1098.2,1146.8,1195.4,1244],[159,199.8,240.7,281.5,322.3,363.2,404],2.5,8);
const eX=t=>159+t*4.083,eY=v=>1244-v*0.0243;
const E=[0,100,1,300,2,2500,3,5500,4,7500,5,8100,6,7900,7,7500,8,7000,9,6500,10,6000,11,5500,12,5000,13,4400,14,3800,15,3200,16,2600,17,2000,18,1400,19,900,20,600,22,400,25,300,30,250,40,250,60,200];
const Eg=[0,100,1,300,2,2500,3,5500,4,7500,5,8200,6,8100,7,7700,8,7300,9,6800,10,6300,11,5800,12,5300,13,4800,14,4200,15,3600,16,3000,17,2400,18,1800,19,1300,20,900,22,500,25,350,30,300,60,250];
const Eo=[0,100,1,300,2,2500,3,5800,4,7800,5,8300,6,8100,7,7600,8,7100,9,6600,10,6100,11,5600,12,5100,13,4500,14,3900,15,3300,16,2700,17,2100,18,1600,19,1200,20,900,22,600,25,450,28,350,31,500,34,800,36,900,38,700,40,400,43,300,50,350,55,350,60,300];
const Er=[0,100,1,300,2,2000,3,5500,4,7600,5,8000,6,7600,7,7100,8,6600,9,6100,10,5600,11,5100,12,4600,13,4000,14,3400,15,2800,16,2100,17,1400,18,800,19,400,20,250,25,200,60,150];
ser({X:eX,Y:eY,kp:Eo,n:60,c:OR,sh:'d',r:3,err:0.07,cw:2.5,lw:1.5});
ser({X:eX,Y:eY,kp:Eg,n:60,c:MG,sh:'v',r:3,sc:0.98,err:0.07,cw:2.5,lw:1.5});
ser({X:eX,Y:eY,kp:Eg,n:60,c:GR,sh:'^',r:3,err:0.07,cw:2.5,lw:1.5});
ser({X:eX,Y:eY,kp:Er,n:60,c:RD,sh:'s',r:3,err:0.07,cw:2.5,lw:1.5});
ser({X:eX,Y:eY,kp:E,n:60,c:BL,sh:'o',r:3.2,err:0.06,cw:2.5,lw:1.5});
ser({X:eX,Y:eY,kp:[0,100,60,100],n:60,c:BK,sh:'o',r:3,lw:1.5});
ser({X:eX,Y:eY,kp:[0,100,60,100],n:60,c:BR,sh:'s',r:3.5,err:0,ea:110,cw:2.5,ew:1.5,lw:1.5});
[[969,'o',BL],[1010,'s',RD],[1051,'^',GR],[1092,'v',MG],[1132,'d',OR],[1170,'o',BK],[1201,'s',BR]].forEach(a=>leg(351,377,a[0],a[1],a[2],4.5));

/* ---------- PANEL F ---------- */
ax(773,1018,1246,1003,[1003,1051.6,1100.2,1148.8,1197.4,1246],[773,813.8,854.7,895.5,936.3,977.2,1018],2.5,8);
const fX=t=>773+t*4.083,fY=v=>1246-v*0.0243;
const F=[0,200,1,300,2,2500,3,5500,4,6400,5,6600,6,6400,7,6000,8,5600,9,5200,10,4800,12,4000,14,3300,16,2600,18,2000,20,1400,22,900,24,600,26,450,30,300,40,200,60,150];
const Fm=[0,200,1,300,2,3000,3,6500,4,8000,5,8400,6,8200,7,7800,8,7300,9,6900,10,6400,12,5500,14,4600,16,3700,18,2900,20,2200,22,1500,24,1000,26,700,30,450,40,300,60,250];
ser({X:fX,Y:fY,kp:F,n:60,c:OR,sh:'d',r:3,sc:1.03,err:0.07,cw:2.5,lw:1.5});
ser({X:fX,Y:fY,kp:Fm,n:60,c:MG,sh:'v',r:3,err:0.07,cw:2.5,lw:1.5});
ser({X:fX,Y:fY,kp:F,n:60,c:GR,sh:'^',r:3,sc:0.98,err:0.07,cw:2.5,lw:1.5});
ser({X:fX,Y:fY,kp:F,n:60,c:RD,sh:'s',r:3,sc:1.1,err:0.07,cw:2.5,lw:1.5});
ser({X:fX,Y:fY,kp:F,n:60,c:BL,sh:'o',r:3.2,err:0.06,cw:2.5,lw:1.5});
ser({X:fX,Y:fY,kp:[0,100,60,100],n:60,c:BK,sh:'o',r:3,lw:1.5});
ser({X:fX,Y:fY,kp:[0,150,10,120,60,80],n:60,c:BR,sh:'s',r:3.5,err:0,ea:110,cw:2.5,ew:1.5,lw:1.5});
[[982,'o',BL],[1023,'s',RD],[1063,'^',GR],[1103,'v',MG],[1143,'d',OR],[1179,'o',BK],[1217,'s',BR]].forEach(a=>leg(967,993,a[0],a[1],a[2],4.5));

/* ---------- PANEL G ---------- */
ax(1354,1602,1247,999,[999,1048.6,1098.2,1147.8,1197.4,1247],[1354,1416,1478,1540,1602],2.5,8);
const gX=t=>1354+t*6.2,gY=v=>1247-v*0.0496;
const Gk=[0,200,1,150,2,120,3,150,4,600,5,1300,6,1900,7,2500,8,3000,9,3400,10,3700,11,3800,12,3900,13,3900,14,3750,15,3500,16,3200,17,2900,18,2600,19,2300,20,2000,21,1750,22,1500,23,1250,24,1050,25,850,26,700,27,580,28,480,29,400,30,350,32,280,35,230,40,180];
const Gr=[0,200,1,150,2,120,3,150,4,600,5,1300,6,1900,7,2500,8,3000,9,3500,10,3800,11,4000,12,4000,13,4000,14,3850,15,3650,16,3350,17,3050,18,2750,19,2450,20,2150,21,1900,22,1650,23,1400,24,1200,25,1000,26,850,27,720,28,620,29,540,30,480,32,400,35,330,40,280];
ser({X:gX,Y:gY,kp:Gk,n:40,c:OR,sh:'d',r:3.2,sc:1.05,err:0.1,cw:2.5,lw:1.5});
ser({X:gX,Y:gY,kp:Gk,n:40,c:MG,sh:'v',r:3.2,sc:1.0,err:0.1,cw:2.5,lw:1.5});
ser({X:gX,Y:gY,kp:Gk,n:40,c:GR,sh:'^',r:3.2,sc:1.1,err:0.12,cw:2.5,lw:1.5});
ser({X:gX,Y:gY,kp:Gr,n:40,c:RD,sh:'s',r:3.2,err:0.08,cw:2.5,lw:1.5});
ser({X:gX,Y:gY,kp:Gk,n:40,c:BL,sh:'o',r:3.4,sc:0.95,err:0.08,cw:2.5,lw:1.5});
ser({X:gX,Y:gY,kp:[0,100,40,100],n:40,c:BK,sh:'o',r:3,lw:1.5});
ser({X:gX,Y:gY,kp:[0,120,40,100],n:40,c:BR,sh:'s',r:3.5,err:0,ea:80,cw:2.5,ew:1.5,lw:1.5});
[[955,'o',BL],[995,'s',RD],[1033,'^',GR],[1072,'v',MG],[1111,'d',OR],[1147,'o',BK],[1183,'s',BR]].forEach(a=>leg(1555,1581,a[0],a[1],a[2],4.5));

/* ---------- PANEL H ---------- */
const GY='#cdcdcd',HG='#3fdc20';
const HP=[
 {x0:121,top:1434,max:10000,st:2000,pat:'0000',g:[0,150,1,150,2,600,3,3000,4,5700,5,6900,6,7100,7,7000,8,6700,9,6400,10,6100,11,5900,12,5700,13,5550,14,5400,15,5300,16,5150,17,5000,18,4900,19,4700,20,4450,21,4200,22,4000,23,3800,24,3600,25,3350,26,3000,27,2700,28,2450,29,2200,30,1900,31,1650,32,1400,33,1200,34,1000,35,850,36,700,37,600,38,500,39,450,40,400,42,350,45,300,50,250],gr:[0,150,2,130,5,100,50,80]},
 {x0:505,top:1434,max:15000,st:5000,pat:'1001',g:[0,400,1,400,2,1100,3,5000,4,7800,5,9000,6,9100,7,8600,8,8300,9,8100,10,8000,12,7900,15,7900,18,7900,20,7600,22,7100,24,6500,26,5800,28,5100,30,4400,32,3800,34,3300,36,2900,38,2600,40,2400,45,2200,50,2000],gr:[0,300,2,200,5,80,50,50]},
 {x0:880,top:1434,max:8000,st:2000,pat:'0011',g:[0,300,1,150,2,300,3,2800,4,4900,5,6000,6,6400,7,6400,8,6300,9,6200,10,6050,12,5800,14,5500,16,5200,18,4900,20,4600,22,4200,24,3700,26,3200,28,2700,30,2200,32,1800,34,1500,36,1200,38,1000,40,850,42,750,45,650,50,550],gr:[0,200,3,100,50,80]},
 {x0:1252,top:1434,max:5000,st:1000,pat:'0101',g:[0,350,2,350,3,600,4,1500,5,2900,6,3900,7,4300,8,4450,9,4350,10,4100,11,3900,12,3600,13,3300,14,3000,15,2700,16,2400,17,2100,18,1800,19,1500,20,1200,21,1000,22,800,23,650,24,520,25,450,26,400,28,350,30,330,40,320,50,320],gr:[0,350,2,300,3,400,4,900,5,1500,6,1900,7,2200,8,2400,9,2500,10,2600,11,2650,12,2650,13,2600,14,2500,15,2300,16,2100,17,1900,18,1600,19,1300,20,1050,21,850,22,650,23,500,24,400,25,320,26,250,28,200,30,180,40,180,50,200]},
 {x0:1625,top:1434,max:6000,st:2000,pat:'1110',g:[0,150,1,150,2,300,3,900,4,1700,5,3000,6,4300,7,5300,8,5400,9,5200,10,4800,11,4500,12,4200,13,3900,14,3600,15,3300,16,3000,17,2700,18,2400,19,2100,20,1850,22,1450,24,1100,26,800,28,600,30,450,32,350,35,250,40,180,50,150],gr:[0,100,2,150,3,300,4,700,5,1300,6,1800,7,2300,8,2500,9,2600,10,2550,11,2400,12,2250,13,2050,14,1850,15,1600,16,1400,17,1200,18,1000,20,700,22,500,24,350,26,250,28,180,30,130,35,80,40,60,50,50]},
 {x0:121,top:1755,max:8000,st:2000,pat:'0001',g:[0,250,1,200,2,800,3,3200,4,5500,5,6600,6,6800,7,6700,8,6400,9,6100,10,5900,11,5700,12,5500,14,5300,16,5100,18,4900,19,4700,20,4500,21,4300,22,4000,23,3800,24,3500,25,3200,26,2800,27,2400,28,2100,29,1800,30,1500,31,1300,32,1100,33,950,34,800,35,650,36,550,37,480,38,420,40,350,45,280,50,220],gr:[0,150,3,110,50,80]},
 {x0:505,top:1755,max:10000,st:2000,pat:'1011',g:[0,100,1,100,2,450,3,2800,4,5200,5,7000,6,7800,7,7800,8,7400,9,7000,10,6700,11,6400,12,6200,14,5900,16,5600,18,5300,20,5000,22,4700,24,4400,26,4000,28,3500,30,3000,32,2600,34,2300,36,2000,38,1800,40,1700,45,1500,50,1400],gr:[0,60,50,40]},
 {x0:880,top:1755,max:8000,st:2000,pat:'0111',g:[0,400,2,400,3,600,4,1800,5,3800,6,5000,7,5600,8,5500,9,5300,10,5100,12,4800,14,4400,16,3900,18,3300,20,2600,22,2000,24,1400,26,1000,28,700,30,550,32,450,35,400,40,380,50,380],gr:[0,350,2,350,3,500,4,1300,5,3000,6,4000,7,4500,8,4800,9,4850,10,4800,12,4600,14,4300,16,3800,18,3200,20,2500,22,1900,24,1300,26,800,28,500,30,350,32,250,35,200,40,200,50,200]},
 {x0:1252,top:1755,max:5000,st:1000,pat:'1101',g:[0,200,2,250,3,700,4,1800,5,3200,6,4000,7,4300,8,4200,9,3900,10,3600,11,3300,12,3000,13,2700,14,2400,15,2100,16,1800,17,1500,18,1200,19,1000,20,800,22,550,24,400,26,320,28,280,30,250,40,230,50,230],gr:[0,150,2,150,3,200,4,600,5,1000,6,1400,7,1700,8,1900,9,2100,10,2250,11,2300,12,2300,13,2300,14,2200,15,2000,16,1800,17,1600,18,1350,19,1100,20,900,22,600,24,400,26,250,28,170,30,130,40,100,50,100]},
 {x0:1625,top:1755,max:5000,st:1000,pat:'1111',g:[0,200,2,200,3,300,4,600,5,1200,6,1900,7,2900,8,3600,9,3800,10,3900,11,3700,12,3500,13,3200,14,2900,15,2700,16,2400,17,2100,18,1800,19,1500,20,1250,22,900,24,600,26,400,28,300,30,250,35,180,40,150,50,150],gr:[0,200,2,200,3,200,4,450,5,900,6,1300,7,1700,8,1900,9,2050,10,2100,11,2100,12,2050,13,1950,14,1800,15,1650,16,1450,17,1250,18,1050,20,750,22,500,24,330,26,220,28,150,30,110,40,80,50,80]}
];
HP.forEach(P=>{
 const bot=P.top+243,k=243/P.max;
 const X=t=>P.x0+t*4.86,Y=v=>bot-v*k;
 const yts=[];for(let v=0;v<=P.max+1;v+=P.st)yts.push(Y(v));
 const xts=[];for(let i=0;i<=5;i++)xts.push(P.x0+i*48.6);
 ax(P.x0,P.x0+243,bot,P.top,yts,xts,2.5,8,true);
 ser({X:X,Y:Y,kp:P.g,n:50,c:GY,sh:'o',r:3.6,err:0.07,cw:3,ec:'#d8d8d8',ew:1.3,lw:2});
 ser({X:X,Y:Y,kp:P.gr,n:50,c:HG,sh:'s',r:3.2,err:P.gr.some((v,i)=>i%2&&v>500)?0.07:0.5,cw:3,ew:1.3,lw:2});
 const bx=P.x0+76,by=P.top+17;
 for(let i=0;i<4;i++)el('rect',{x:bx+i*36.25,y:by,width:36.25,height:16,fill:P.pat[i]=='1'?'#44dd22':'#fff',stroke:'#000','stroke-width':2.5});
});
el('path',{d:'M214,1451V1459M248,1451V1459M289,1451V1459M326,1451V1459',stroke:'#000','stroke-width':1.5});
leg(1744,1768,1552,'o',GY,4.5);leg(1744,1768,1590,'s',HG,4);
leg(1744,1768,1875,'o',GY,4.5);leg(1744,1768,1913,'s',HG,4);

/* ---------- PANEL I ---------- */
const iY=v=>2535.5-v*6.85;
el('path',{d:'M106 2191V2535.5H623M96 2193H106M96 2261.5H106M96 2330H106M96 2398.5H106M96 2467H106M96 2535.5H106',stroke:'#000','stroke-width':4,fill:'none'});
function box(cx,w,cap,Y,d,fill,lw){
 const mn=d[0],q1=d[1],md=d[2],q3=d[3],mx=d[4],out=d[5];
 el('path',{d:'M'+cx+' '+Y(mn)+'V'+Y(q1)+'M'+cx+' '+Y(q3)+'V'+Y(mx)+'M'+(cx-cap/2)+' '+Y(mn)+'h'+cap+'M'+(cx-cap/2)+' '+Y(mx)+'h'+cap,stroke:'#000','stroke-width':lw,fill:'none'});
 el('rect',{x:cx-w/2,y:Y(q3),width:w,height:Y(q1)-Y(q3),fill:fill,stroke:'#000','stroke-width':lw});
 el('line',{x1:cx-w/2,y1:Y(md),x2:cx+w/2,y2:Y(md),stroke:'#000','stroke-width':lw*0.8});
 (out||[]).forEach(o=>el('circle',{cx:cx,cy:Y(o),r:3,fill:'#000'}));
}
const iB=[[0.5,6.8,15.2,20.6,35.3],[2.6,10.5,13.2,17.0,22.6,[27.5,32.2]],[9.9,19.5,26.1,29.2,41.4],[2.9,9.7,17.1,24.4,41.4],[6.3,8.3,11.4,22.3,31.6],[2.5,3.6,9.4,12.8,19.0],[0.6,3.4,6.2,8.4,15.0],[1.3,3.0,5.7,8.0,12.2],[0.6,4.8,7.6,10.4,19.2,[24.7]],[0.6,3.1,5.2,6.8,13.0]];
iB.forEach((d,i)=>{const cx=140+i*49.9;el('line',{x1:cx,y1:2535,x2:cx,y2:2549,stroke:'#000','stroke-width':4});box(cx,31,14,iY,d,'#d4d4d4',3.5);});

/* ---------- PANEL K ---------- */
const kY=v=>2535.5-v*0.433;
el('path',{d:'M1625 2187V2535.5H1857M1615 2189H1625M1615 2275.6H1625M1615 2362.3H1625M1615 2448.9H1625M1615 2535.5H1625',stroke:'#000','stroke-width':4,fill:'none'});
[[1671,[248,348,400,442,588,[620,720]],'#d4d4d4'],[1741,[128,170,185,198,222,[112,252]],'#4ee02a'],[1810,[107,145,155,166,200,[100]],'#4ee02a']].forEach(a=>{
 el('line',{x1:a[0],y1:2535,x2:a[0],y2:2549,stroke:'#000','stroke-width':4});box(a[0],44,24,kY,a[1],a[2],4);});
})();
</script>
</body></html>
